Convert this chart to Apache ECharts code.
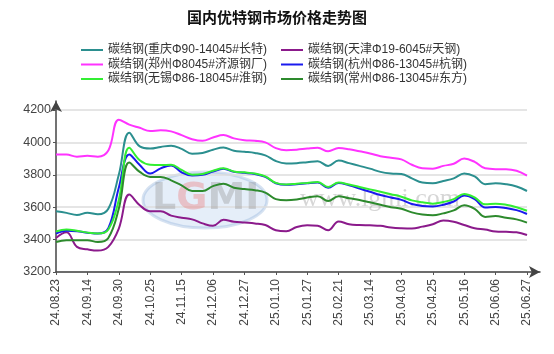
<!DOCTYPE html>
<html>
<head>
<meta charset="utf-8">
<script src="https://cdn.jsdelivr.net/npm/echarts@6/dist/echarts.min.js"></script>
<style>html,body{margin:0;padding:0;background:#fff}#c{width:554px;height:354px}</style>
</head>
<body>
<div id="c"></div>
<script>
var dates = ['24.08.23','24.08.30','24.09.06','24.09.14','24.09.20','24.09.27','24.09.30','24.10.11','24.10.18','24.10.25',
  '24.11.01','24.11.08','24.11.15','24.11.22','24.11.29','24.12.06','24.12.13','24.12.20','24.12.27','24.12.31',
  '25.01.03','25.01.10','25.01.17','25.01.24','25.01.27','25.02.07','25.02.14','25.02.21','25.02.28','25.03.07',
  '25.03.14','25.03.21','25.03.28','25.04.03','25.04.11','25.04.18','25.04.25','25.04.30','25.05.09','25.05.16',
  '25.05.23','25.05.30','25.06.06','25.06.13','25.06.20','25.06.27'];

var chongqing = [3575,3565,3552,3566,3556,3590,3800,4060,3975,3962,3972,3980,3960,3930,3935,3955,3968,3948,3942,3935,
  3920,3885,3870,3872,3878,3884,3855,3888,3872,3855,3838,3818,3808,3805,3778,3752,3748,3762,3778,3808,3790,3742,3748,3742,3728,3700];
var tianjin = [3410,3445,3355,3340,3332,3355,3468,3678,3612,3575,3575,3548,3535,3525,3500,3485,3522,3510,3505,3500,
  3490,3458,3452,3478,3488,3485,3458,3512,3495,3490,3488,3485,3475,3470,3468,3480,3495,3518,3510,3490,3470,3462,3450,3448,3445,3428];
var zhengzhou = [3926,3925,3912,3918,3912,3950,4140,4110,4090,4070,4075,4068,4045,4020,4010,4030,4045,4025,4014,4010,
  4000,3965,3952,3955,3962,3967,3945,3965,3958,3945,3932,3915,3905,3895,3862,3840,3838,3855,3868,3900,3880,3840,3835,3835,3825,3795];
var hangzhou = [3437,3455,3452,3443,3437,3470,3720,3926,3860,3808,3840,3858,3815,3795,3800,3820,3838,3818,3812,3805,
  3787,3748,3738,3742,3748,3752,3720,3750,3735,3715,3695,3675,3660,3645,3620,3608,3605,3615,3635,3672,3650,3598,3602,3595,3582,3558];
var wuxi = [3450,3463,3455,3443,3437,3462,3645,3967,3890,3862,3860,3862,3830,3800,3805,3825,3840,3820,3815,3808,
  3790,3750,3740,3745,3750,3756,3725,3752,3740,3725,3710,3695,3680,3665,3642,3630,3622,3632,3650,3682,3660,3618,3622,3615,3600,3578];
var changzhou = [3385,3396,3396,3396,3385,3410,3590,3876,3818,3787,3787,3766,3735,3700,3700,3730,3745,3720,3712,3705,
  3690,3650,3643,3648,3660,3668,3638,3668,3655,3645,3630,3615,3600,3590,3568,3555,3550,3562,3580,3612,3590,3540,3545,3535,3525,3505];

var names = ['碳结钢(重庆Φ90-14045#长特)','碳结钢(天津Φ19-6045#天钢)','碳结钢(郑州Φ8045#济源钢厂)',
  '碳结钢(杭州Φ86-13045#杭钢)','碳结钢(无锡Φ86-18045#淮钢)','碳结钢(常州Φ86-13045#东方)'];
var colors = ['#2b8f8f','#8b1a8b','#ff33ff','#1a1aee','#33ee33','#2d8a2d'];
var seriesData = [chongqing, tianjin, zhengzhou, hangzhou, wuxi, changzhou];

var FONT = '"Liberation Sans", Arial, "Noto Sans CJK SC", sans-serif';

var series = seriesData.map(function (d, k) {
  return {
    name: names[k], type: 'line', data: d, xAxisIndex: 0, yAxisIndex: 0,
    smooth: 0.4, showSymbol: false, symbol: 'none',
    lineStyle: { width: 2, color: colors[k] }, itemStyle: { color: colors[k] }, z: 3
  };
});

var legendCommon = {
  orient: 'vertical', top: 39, itemWidth: 22, itemHeight: 2, itemGap: 2.5, icon: 'rect',
  textStyle: { fontSize: 12, lineHeight: 12, color: '#333', fontFamily: FONT }
};

var chart = echarts.init(document.getElementById('c'), null, { renderer: 'canvas' });
chart.setOption({
  animation: false,
  backgroundColor: '#fff',
  color: colors,
  title: {
    text: '国内优特钢市场价格走势图', left: 'center', top: 6,
    textStyle: { fontSize: 15, fontWeight: 'bold', color: '#111', fontFamily: FONT }
  },
  legend: [
    Object.assign({}, legendCommon, { left: 76, data: [names[0], names[2], names[4]] }),
    Object.assign({}, legendCommon, { left: 276, data: [names[1], names[3], names[5]] })
  ],
  graphic: [
    { type: 'ellipse', shape: { cx: 205, cy: 200, rx: 62, ry: 28 }, z: 0,
      style: { fill: 'rgba(170,200,235,0.3)', stroke: 'rgba(120,160,210,0.3)', lineWidth: 3 } },
    { type: 'text', x: 152, y: 180, z: 1,
      style: { text: '{a|L}{b|G}{a|MI}', rich: {
        a: { fontSize: 38, fontWeight: 'bold', fill: 'rgba(140,140,140,0.35)', fontFamily: 'DejaVu Sans' },
        b: { fontSize: 38, fontWeight: 'bold', fill: 'rgba(235,110,110,0.35)', fontFamily: 'DejaVu Sans' } } } },
    { type: 'text', x: 300, y: 186, z: 1,
      style: { text: 'www.lgmi.com', fontSize: 26, fontFamily: '"Liberation Serif", serif', fill: 'rgba(120,120,120,0.3)' } }
  ],
  grid: [
    { left: 56, right: 27, top: 110, bottom: 82 },
    { left: 56, right: 14, top: 101, bottom: 82 }
  ],
  xAxis: [
    {
      gridIndex: 0, type: 'category', data: dates, boundaryGap: false,
      axisLine: { show: false },
      axisTick: { show: true, interval: 2, length: 3, lineStyle: { color: '#555' } },
      axisLabel: { interval: 2, rotate: 90, fontSize: 12, color: '#444', margin: 7, fontFamily: FONT },
      splitLine: { show: false }
    },
    {
      gridIndex: 1, type: 'value', min: 0, max: 1, show: true,
      axisLine: { show: true, symbol: ['none', 'arrow'], symbolSize: [9, 11], lineStyle: { color: '#444', width: 1.5 } },
      axisTick: { show: false }, axisLabel: { show: false }, splitLine: { show: false }
    }
  ],
  yAxis: [
    {
      gridIndex: 0, type: 'value', min: 3200, max: 4200, interval: 200,
      axisLine: { show: false },
      axisTick: { show: true, length: 3, lineStyle: { color: '#555' } },
      axisLabel: { fontSize: 12.5, color: '#444', margin: 5, fontFamily: FONT,
        formatter: function (v) { return String(v); } },
      splitLine: { show: true, lineStyle: { color: '#dcdcdc', width: 1.5 } }
    },
    {
      gridIndex: 1, type: 'value', min: 0, max: 1, show: true,
      axisLine: { show: true, symbol: ['none', 'arrow'], symbolSize: [9, 11], lineStyle: { color: '#444', width: 1.5 } },
      axisTick: { show: false }, axisLabel: { show: false }, splitLine: { show: false }
    }
  ],
  series: series
});
</script>
</body>
</html>
